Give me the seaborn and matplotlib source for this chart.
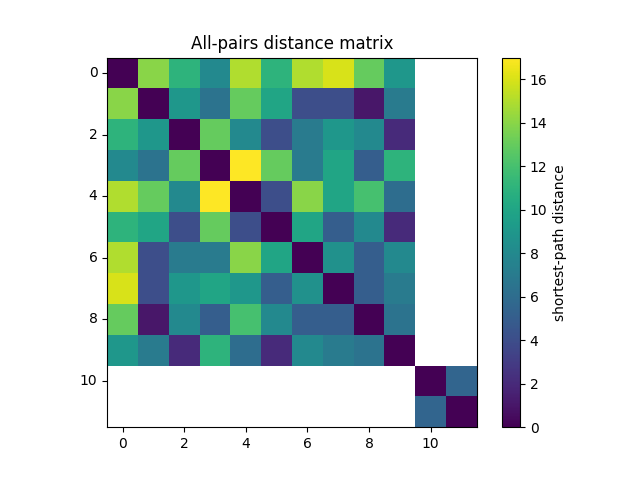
import numpy as np
import seaborn as sns
import matplotlib
matplotlib.use("Agg")
import matplotlib.pyplot as plt

nodes = list(range(12))
nan = np.nan
# shortest-path distances, nan = unreachable
rows = [
    [0, 14, 11, 8, 15, 11, 15, 16, 13, 9, nan, nan],
    [14, 0, 9, 6.5, 13, 10, 4, 4, 1, 7, nan, nan],
    [11, 9, 0, 13, 8, 4, 7, 9, 8, 2, nan, nan],
    [8, 6.5, 13, 0, 17, 13, 7, 10, 5, 11, nan, nan],
    [15, 13, 8, 17, 0, 4, 14, 10, 12, 6, nan, nan],
    [11, 10, 4, 13, 4, 0, 10, 5, 8, 2, nan, nan],
    [15, 4, 7, 7, 14, 10, 0, 8.5, 5, 8, nan, nan],
    [16, 4, 9, 10, 9, 5, 8.5, 0, 5, 7, nan, nan],
    [13, 1, 8, 5, 12, 8, 5, 5, 0, 6.5, nan, nan],
    [9, 7, 2, 11, 6, 2, 8, 7, 6.5, 0, nan, nan],
    [nan] * 10 + [0, 5.5],
    [nan] * 10 + [5.5, 0],
]
dist = np.array(rows, dtype=float)

fig, ax = plt.subplots(figsize=(6.4, 4.8))
sns.heatmap(dist, cmap="viridis", vmin=0, vmax=17, ax=ax,
            cbar_kws={"label": "shortest-path distance", "ticks": range(0, 17, 2)})
ax.set_aspect("equal")
ticks = nodes[::2]
ax.set_xticks([t + 0.5 for t in ticks])
ax.set_xticklabels(ticks, rotation=0)
ax.set_yticks([t + 0.5 for t in ticks])
ax.set_yticklabels(ticks, rotation=0)
for s in ax.spines.values():
    s.set_visible(True)
    s.set_linewidth(0.8)
cb = ax.collections[0].colorbar
cb.outline.set_linewidth(0.8)
cb.outline.set_visible(True)
ax.set_title("All-pairs distance matrix")
plt.savefig("out.png", dpi=100)
